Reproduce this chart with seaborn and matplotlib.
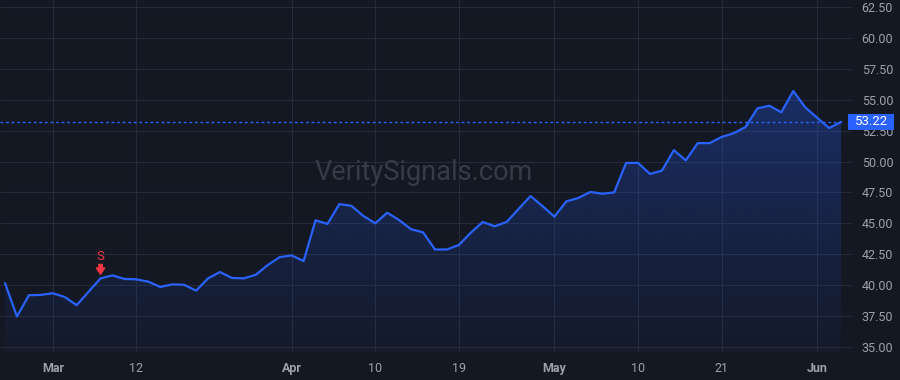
import numpy as np
import pandas as pd
import matplotlib
matplotlib.use("Agg")
import matplotlib.pyplot as plt
import matplotlib.transforms as mtransforms
from matplotlib.patches import Rectangle
import seaborn as sns

# ---------------- data ----------------
dates = pd.bdate_range("2024-02-26", "2024-06-05", freq="C",
                       holidays=["2024-03-29", "2024-05-27"])
prices = [40.15, 37.45, 39.17, 39.20, 39.33, 39.03, 38.36, 39.46, 40.54, 40.78,
          40.49, 40.46, 40.27, 39.84, 40.05, 40.02, 39.54, 40.54, 41.05, 40.57,
          40.54, 40.83, 41.62, 42.26, 42.40, 41.94, 45.24, 44.95, 46.56, 46.42,
          45.60, 45.00, 45.86, 45.26, 44.52, 44.27, 42.88, 42.88, 43.24, 44.24,
          45.11, 44.76, 45.11, 46.16, 47.21, 46.40, 45.54, 46.78, 47.05, 47.54,
          47.40, 47.50, 49.89, 49.90, 49.00, 49.27, 50.93, 50.10, 51.50, 51.50,
          52.00, 52.30, 52.80, 54.32, 54.53, 54.00, 55.72, 54.40, 53.56, 52.72,
          53.22]
tick_dates = ["2024-03-01", "2024-03-12", "2024-04-01", "2024-04-10", "2024-04-19",
              "2024-05-01", "2024-05-10", "2024-05-21", "2024-06-03"]
tick_labels = ["Mar", "12", "Apr", "10", "19", "May", "10", "21", "Jun"]
y_ticks = [35.0, 37.5, 40.0, 42.5, 45.0, 47.5, 50.0, 52.5, 55.0, 57.5, 60.0, 62.5]
signal_date = "2024-03-07"
signal_label = "S"
watermark = "VeritySignals.com"

df = pd.DataFrame({"date": dates, "price": prices})
df["i"] = np.arange(len(df))

# ---------------- style ----------------
BG = "#141823"
GRID = "#242a36"
BLUE = "#2962ff"
TXT = "#9ea1aa"
RED = "#f23645"

sns.set_style("dark", rc={"axes.facecolor": BG, "figure.facecolor": BG,
                          "grid.color": GRID, "axes.edgecolor": BG})
plt.rcParams["font.family"] = ["Roboto", "DejaVu Sans"]

fig = plt.figure(figsize=(9, 3.8), dpi=100)
ax = fig.add_axes([0, 1 - 352 / 380, 845 / 900, 352 / 380])
ax.set_facecolor(BG)

sns.lineplot(data=df, x="i", y="price", ax=ax, color=BLUE, linewidth=1.6, zorder=4)

ylo, yhi = 34.57, 63.1
xlo, xhi = -0.42, len(df) - 1 + 0.33

# gradient fill under the line
poly = ax.fill_between(df["i"], df["price"], ylo, color="none", lw=0)
grad = np.linspace(0.03, 0.30, 256).reshape(-1, 1)
rgba = np.zeros((256, 1, 4))
rgba[..., 0] = 41 / 255
rgba[..., 1] = 98 / 255
rgba[..., 2] = 1.0
rgba[..., 3] = grad
im = ax.imshow(rgba, extent=[xlo, xhi, ylo, max(prices)], aspect="auto",
               origin="lower", zorder=2, interpolation="bilinear")
path = poly.get_paths()[0]
im.set_clip_path(path, transform=ax.transData)

ax.set_xlim(xlo, xhi)
ax.set_ylim(ylo, yhi)

# grid & ticks
pos_map = {d.strftime("%Y-%m-%d"): i for i, d in enumerate(df["date"])}
xt = [pos_map[d] for d in tick_dates]
ax.set_xticks(xt)
ax.set_xticklabels(tick_labels)
for lab in ax.get_xticklabels():
    if not lab.get_text().isdigit():
        lab.set_fontweight("bold")
ax.set_yticks(y_ticks)
ax.set_yticklabels([f"{v:.2f}" for v in y_ticks])
ax.yaxis.tick_right()
ax.tick_params(axis="x", length=0, pad=7, labelsize=9, labelcolor=TXT)
ax.tick_params(axis="y", length=4, color=GRID, pad=8, labelsize=9, labelcolor=TXT)
ax.grid(True, color=GRID, lw=0.8)
ax.set_axisbelow(True)
ax.set_xlabel("")
ax.set_ylabel("")
for s in ax.spines.values():
    s.set_visible(False)

# watermark
ax.text(0.502, 0.511, watermark, transform=ax.transAxes, ha="center", va="center",
        fontsize=19.5, color="#373b47", zorder=1)

# last price line and label
last = prices[-1]
ax.axhline(last, color=BLUE, lw=1, ls=(0, (2, 2)), zorder=3)
trans = mtransforms.blended_transform_factory(ax.transAxes, ax.transData)
box_h = 16.7 / 12.34
ax.add_patch(Rectangle((1.0036, last - box_h / 2), 0.0545, box_h, transform=trans,
                       facecolor=BLUE, edgecolor="none", clip_on=False, zorder=10))
ax.text(1.0036 + 0.0545 / 2, last, f"{last:.2f}", transform=trans, ha="center",
        va="center", color="white", fontsize=9.5, zorder=11, clip_on=False)

# signal marker
si = pos_map[signal_date]
sp = prices[si]
ax.annotate("", xy=(si, sp), xytext=(0, 10), textcoords="offset points",
            arrowprops=dict(arrowstyle="simple,head_width=0.6,head_length=0.45,tail_width=0.25",
                            color=RED, shrinkA=0, shrinkB=3), zorder=6)
ax.annotate(signal_label, xy=(si, sp), xytext=(0, 16), textcoords="offset points",
            ha="center", va="center", color=RED, fontsize=9.5, zorder=6)

fig.savefig("out.png", dpi=100, facecolor=BG)
